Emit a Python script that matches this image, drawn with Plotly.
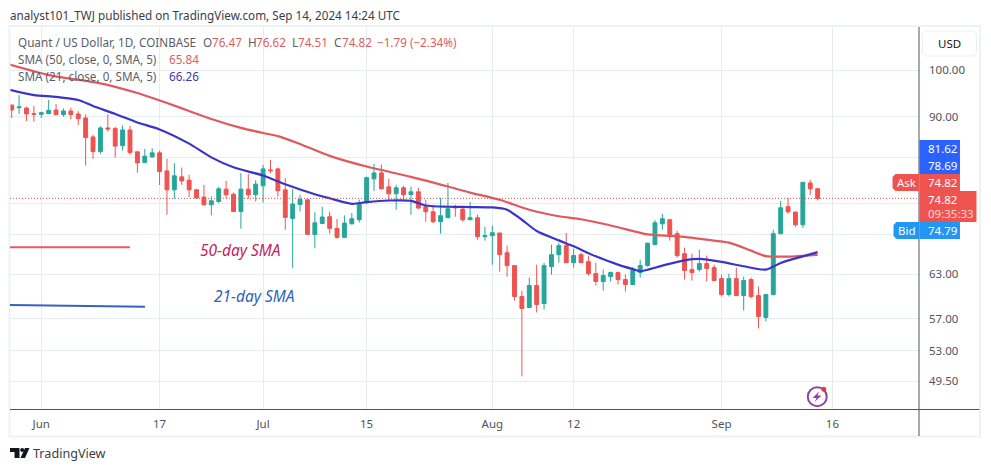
import pandas as pd
import plotly.graph_objects as go

W, H = 991, 472
L, R, T, B = 10, 919.5, 27, 409

dates = pd.date_range("2024-05-28", periods=110, freq="D")
opens = [92.41,91.85,91.78,90.6,90.49,90.6,91.37,90.41,91.17,90.55,
 89.74,85.97,83.17,87.74,87.6,84.29,87.34,83.12,81.12,82.18,
 82.93,79.62,76.28,78.55,77.97,76.28,75.04,73.75,74.29,76.4,
 75.54,72.64,76.4,75.43,76.97,79.8,79.98,76.28,71.5,73.8,
 74.58,68.97,70.69,71.78,69.91,68.51,70.64,71.29,74.2,78.2,
 79.25,76.8,75.6,76.63,75.48,75.94,73.42,72.59,70.97,71.62,
 73.42,73.03,71.29,71.62,68.61,68.76,69.18,66.18,64.27,59.93,
 58.46,61.44,58.99,64.12,65.88,67.24,64.7,65.88,64.85,63.12,
 62.0,62.69,63.26,62.27,61.58,63.26,64.27,67.39,70.64,71.29,
 69.08,66.03,63.69,63.69,64.56,63.98,62.41,60.2,62.41,60.06,
 62.27,60.06,57.16,60.2,69.08,73.42,72.54,70.49,77.48,76.47]
highs = [92.41,94.51,92.05,92.2,91.02,93.45,92.61,91.72,91.85,91.1,
 90.49,86.42,88.07,90.49,87.94,88.28,88.14,83.17,83.68,83.81,
 83.3,81.81,81.0,80.22,78.91,76.45,77.15,75.14,76.8,77.84,
 75.81,79.21,79.09,77.97,80.71,81.62,80.22,78.32,76.4,75.43,
 74.63,72.48,73.42,72.59,71.4,71.99,72.38,74.58,78.6,80.89,
 80.76,78.2,77.15,76.97,76.85,76.63,74.58,73.75,74.92,77.48,
 73.75,73.25,74.24,72.1,70.17,70.33,69.23,67.24,64.27,60.74,
 62.55,64.41,64.66,67.39,67.69,69.18,66.78,66.18,65.74,64.7,
 63.69,63.4,63.4,62.98,64.08,65.14,67.69,71.24,72.26,71.45,
 69.54,66.93,66.03,66.63,65.74,64.41,62.98,63.12,63.98,62.69,
 62.55,61.3,60.2,69.7,74.41,74.92,72.59,77.67,78.02,76.62]
lows = [89.73,90.55,89.13,88.99,89.74,90.55,90.35,90.0,89.47,88.33,
 80.58,81.81,82.74,87.01,82.05,83.36,82.61,79.31,81.12,82.05,
 77.13,72.1,74.75,77.15,75.04,74.75,73.63,71.99,74.03,74.87,
 72.59,69.86,74.75,74.29,74.12,79.21,75.14,69.7,63.88,72.64,
 68.93,66.83,70.64,69.08,68.3,68.46,70.53,70.85,73.87,76.11,
 76.37,74.29,72.92,74.58,72.1,73.03,70.97,70.75,69.08,71.53,
 71.78,70.97,71.24,68.15,68.0,64.41,63.4,62.69,59.38,50.04,
 58.4,57.81,58.2,62.97,64.7,64.63,63.98,64.63,62.84,61.44,
 60.74,62.0,61.58,60.61,61.51,62.55,64.12,67.31,69.7,68.0,
 65.44,62.27,62.13,63.4,62.0,62.06,59.93,59.93,59.99,58.07,
 59.66,55.76,56.65,60.06,69.0,72.26,70.17,70.0,75.43,74.51]
closes = [91.37,92.0,90.55,90.49,90.82,91.31,90.41,91.17,90.41,89.6,
 85.84,83.17,87.74,87.54,84.21,87.34,82.98,81.07,82.31,82.93,
 79.49,76.28,78.73,77.84,76.28,74.87,73.75,74.41,76.45,75.43,
 72.64,76.4,75.43,77.27,79.98,79.67,76.11,71.66,73.87,74.63,
 68.97,70.8,71.73,69.91,68.51,70.75,71.45,74.03,78.42,79.25,
 76.45,75.6,76.63,75.43,75.94,73.2,72.59,70.97,71.95,73.09,
 73.25,71.29,71.62,68.61,68.76,69.23,65.88,64.27,59.93,58.33,
 61.44,58.86,64.27,65.88,67.24,64.7,65.74,64.7,63.12,62.0,
 62.84,63.26,62.27,61.58,63.55,64.27,67.61,70.8,71.45,68.61,
 65.74,63.55,63.26,64.56,63.84,62.13,60.2,62.41,60.06,62.13,
 59.93,57.29,60.2,69.08,73.25,72.59,70.49,77.58,76.45,74.82]

sma50_dates = ["2024-05-27","2024-06-02","2024-06-09","2024-06-14","2024-06-18","2024-06-21","2024-06-24","2024-06-28",
 "2024-07-01","2024-07-03","2024-07-06","2024-07-10","2024-07-15","2024-07-21","2024-07-26","2024-07-29",
 "2024-08-02","2024-08-06","2024-08-10","2024-08-13","2024-08-16","2024-08-18","2024-08-22","2024-08-26",
 "2024-08-30","2024-09-02","2024-09-05","2024-09-07","2024-09-10","2024-09-14"]
sma50 = [101.6,98.88,97.05,94.94,92.82,91.17,89.53,87.74,86.74,86.14,84.62,82.37,80.4,78.55,76.85,75.81,
 74.58,72.92,71.86,71.37,70.64,70.09,68.97,68.69,68.15,67.69,66.48,65.66,65.59,65.84]
sma21_dates = ["2024-05-27","2024-05-31","2024-06-03","2024-06-06","2024-06-08","2024-06-11","2024-06-14","2024-06-17",
 "2024-06-21","2024-06-24","2024-06-27","2024-07-01","2024-07-04","2024-07-08","2024-07-10","2024-07-13",
 "2024-07-15","2024-07-18","2024-07-21","2024-07-23","2024-07-26","2024-07-29","2024-08-01","2024-08-03",
 "2024-08-05","2024-08-07","2024-08-10","2024-08-12","2024-08-15","2024-08-18","2024-08-20","2024-08-21",
 "2024-08-24","2024-08-27","2024-08-29","2024-09-01","2024-09-04","2024-09-07","2024-09-09","2024-09-12","2024-09-14"]
sma21 = [95.91,94.51,94.13,93.45,92.2,90.55,88.83,87.44,84.68,82.09,80.26,78.78,77.24,75.52,74.84,73.91,
 74.2,74.46,74.41,73.63,73.42,73.37,73.3,72.92,71.29,69.5,68.04,67.13,65.63,64.41,63.76,63.47,
 64.27,65.04,65.25,64.81,64.17,63.69,64.66,65.63,66.26]

price_grid = [100, 90, 82, 74, 69, 63, 57, 53, 49.5]
price_labels = ["100.00", "90.00", "", "", "", "63.00", "57.00", "53.00", "49.50"]
time_ticks = ["2024-06-01","2024-06-17","2024-07-01","2024-07-15","2024-08-01","2024-08-12","2024-09-01","2024-09-16"]
time_labels = ["Jun","17","Jul","15","Aug","12","Sep","16"]

GREEN, RED = "#26a69a", "#ef5350"
TXT = "#50535e"
FONT = "Noto Sans"

def X(px): return (px - L) / (R - L)
def Y(py): return 1 - (py - T) / (B - T)

fig = go.Figure()
fig.add_trace(go.Candlestick(x=dates, open=opens, high=highs, low=lows, close=closes,
    increasing=dict(line=dict(color=GREEN, width=1), fillcolor=GREEN),
    decreasing=dict(line=dict(color=RED, width=1), fillcolor=RED),
    whiskerwidth=0, hoverinfo="skip", showlegend=False))
fig.add_trace(go.Scatter(x=sma50_dates, y=sma50, mode="lines", line=dict(color="#de5a5e", width=2.2, shape="spline", smoothing=0.7),
                         hoverinfo="skip", showlegend=False))
fig.add_trace(go.Scatter(x=sma21_dates, y=sma21, mode="lines", line=dict(color="#3a35c8", width=2.2, shape="spline", smoothing=0.7),
                         hoverinfo="skip", showlegend=False))

shapes = []
def rect(x0, y0, x1, y1, fill, line=None, lw=0, layer="above"):
    shapes.append(dict(type="rect", xref="paper", yref="paper", x0=X(x0), x1=X(x1), y0=Y(y0), y1=Y(y1),
                       fillcolor=fill, line=dict(color=line or fill, width=lw), layer=layer))
def seg(x0, y0, x1, y1, color, lw=1, dash="solid"):
    shapes.append(dict(type="line", xref="paper", yref="paper", x0=X(x0), x1=X(x1), y0=Y(y0), y1=Y(y1),
                       line=dict(color=color, width=lw, dash=dash), layer="above"))
def path(points, fill):
    d = "M " + " L ".join(f"{X(a):.5f},{Y(b):.5f}" for a, b in points) + " Z"
    shapes.append(dict(type="path", xref="paper", yref="paper", path=d, fillcolor=fill, line=dict(width=0), layer="above"))
def circle(cx, cy, r, fill, line=None, lw=0):
    shapes.append(dict(type="circle", xref="paper", yref="paper", x0=X(cx-r), x1=X(cx+r), y0=Y(cy+r), y1=Y(cy-r),
                       fillcolor=fill, line=dict(color=line or fill, width=lw), layer="above"))

# frame
rect(9.5, 26, 980.5, 436.5, "rgba(0,0,0,0)", "#eff2f5", 2)
seg(R, 27, R, 436, "#50535e", 1)
seg(10, 409.5, 980, 409.5, "#50535e", 1)
# last price line
shapes.append(dict(type="line", xref="paper", yref="y", x0=0, x1=1, y0=closes[-1], y1=closes[-1],
                   line=dict(color="#d9534f", width=1, dash="1px,2px"), layer="above"))
# hand-drawn legend lines
seg(10, 247.3, 130, 247.3, "#e85a5f", 2)
seg(10, 305, 145, 306.7, "#3560c4", 2)
# price boxes
rect(920, 140, 960.5, 174, "#2962ff")
rect(920, 174, 960.5, 191, RED)
rect(920, 191, 977, 222, RED)
rect(920, 222, 960.5, 239, "#2196f3")
shapes.append(dict(type="path", xref="paper", yref="paper", layer="above", fillcolor=RED, line=dict(width=0),
    path=f"M {X(919.5)},{Y(174)} L {X(896)},{Y(174)} L {X(893)},{Y(177)} L {X(893)},{Y(188)} L {X(896)},{Y(191)} L {X(919.5)},{Y(191)} Z"))
shapes.append(dict(type="path", xref="paper", yref="paper", layer="above", fillcolor="#2196f3", line=dict(width=0),
    path=f"M {X(919.5)},{Y(222)} L {X(897)},{Y(222)} L {X(894)},{Y(225)} L {X(894)},{Y(236)} L {X(897)},{Y(239)} L {X(919.5)},{Y(239)} Z"))
# USD box
shapes.append(dict(type="path", xref="paper", yref="paper", layer="above", fillcolor="white", line=dict(color="#eceef2", width=1),
    path=f"M {X(926)},{Y(31)} L {X(974)},{Y(31)} L {X(977)},{Y(34)} L {X(977)},{Y(53)} L {X(974)},{Y(56)} L {X(926)},{Y(56)} L {X(923)},{Y(53)} L {X(923)},{Y(34)} Z"))
# bolt icon
circle(817.7, 396.7, 9.5, "white", "#8e44a8", 2)
path([(819.5,391.5),(813,398),(817,398),(815,402),(822,395.5),(818,395.5)], "#8e44a8")
circle(824.3, 389.3, 2.5, "#e53935")
# TradingView logo
path([(10,448),(19.5,448),(19.5,458),(14.5,458),(14.5,452),(10,452)], "#131722")
circle(22.2, 450, 2, "#131722")
path([(25,448),(29.5,448),(25,458),(20.5,458)], "#131722")

anns = []
def text(x, y, s, size=12, color=TXT, anchor="left", style="normal", font=FONT):
    anns.append(dict(xref="paper", yref="paper", x=X(x), y=Y(y), text=s, showarrow=False, xanchor=anchor, yanchor="middle",
                     font=dict(family=font, size=size, color=color, style=style), align="left", borderpad=0))

LG = "#5b5e66"; VR = "#d9605f"
SZ = 11.7
text(9, 15, "analyst101_TWJ published on TradingView.com, Sep 14, 2024 14:24 UTC", 11.7, "#3a3d45")
text(17, 42, "Quant / US Dollar, 1D, COINBASE", SZ, LG)
text(202, 42, "O", SZ, LG); text(211, 42, "76.47", SZ, VR)
text(247, 42, "H", SZ, LG); text(255, 42, "76.62", SZ, VR)
text(291, 42, "L", SZ, LG); text(297, 42, "74.51", SZ, VR)
text(333, 42, "C", SZ, LG); text(341, 42, "74.82", SZ, VR)
text(376, 42, "−1.79 (−2.34%)", SZ, VR)
text(17, 59, "SMA (50, close, 0, SMA, 5)", SZ, LG); text(168, 59, "65.84", SZ, VR)
text(17, 76, "SMA (21, close, 0, SMA, 5)", SZ, LG); text(168, 76, "66.26", SZ, "#3a3ab5")
text(199.5, 250, "50-day SMA", 15.5, "#c2255c", style="italic")
text(213.5, 296, "21-day SMA", 15.5, "#2f62c0", style="italic")
PS = 11.5
text(950, 43.5, "USD", PS, "#131722", "center")
text(927.5, 148.5, "81.62", PS, "white")
text(927.5, 165.5, "78.69", PS, "white")
text(927.5, 182.5, "74.82", PS, "white")
text(927.5, 199.5, "74.82", PS, "white")
text(927.5, 213.5, "09:35:33", PS, "#fbd5d5")
text(927.5, 230.5, "74.79", PS, "white")
text(896, 182.5, "Ask", PS, "white")
text(897, 230.5, "Bid", PS, "white")
text(32, 453.5, "TradingView", 12.6, "#3a3d45")

fig.update_layout(
    width=W, height=H, autosize=False,
    margin=dict(l=L, r=W - R, t=T, b=H - B, pad=0),
    paper_bgcolor="white", plot_bgcolor="white",
    showlegend=False, boxgap=0.25,
    font=dict(family=FONT, size=12, color=TXT),
    shapes=shapes, annotations=anns,
    xaxis=dict(type="date", range=["2024-05-27 18:30", "2024-09-27 17:00"], rangeslider=dict(visible=False),
               tickmode="array", tickvals=time_ticks, ticktext=time_labels, showgrid=True, gridcolor="#e6edf0", gridwidth=1,
               zeroline=False, showline=False, ticks="", ticklabelstandoff=6, tickfont=dict(size=11.5, color=TXT)),
    yaxis=dict(type="log", side="right", range=[1.6672, 2.0423], tickmode="array", tickvals=price_grid, ticktext=price_labels,
               showgrid=True, gridcolor="#e6edf0", gridwidth=1, zeroline=False, showline=False, ticks="",
               ticklabelstandoff=9, tickfont=dict(size=11.5, color=TXT)),
)
fig.write_html("out.html", config=dict(displayModeBar=False),
               post_script="document.body.style.margin='0';document.body.style.overflow='hidden';")
